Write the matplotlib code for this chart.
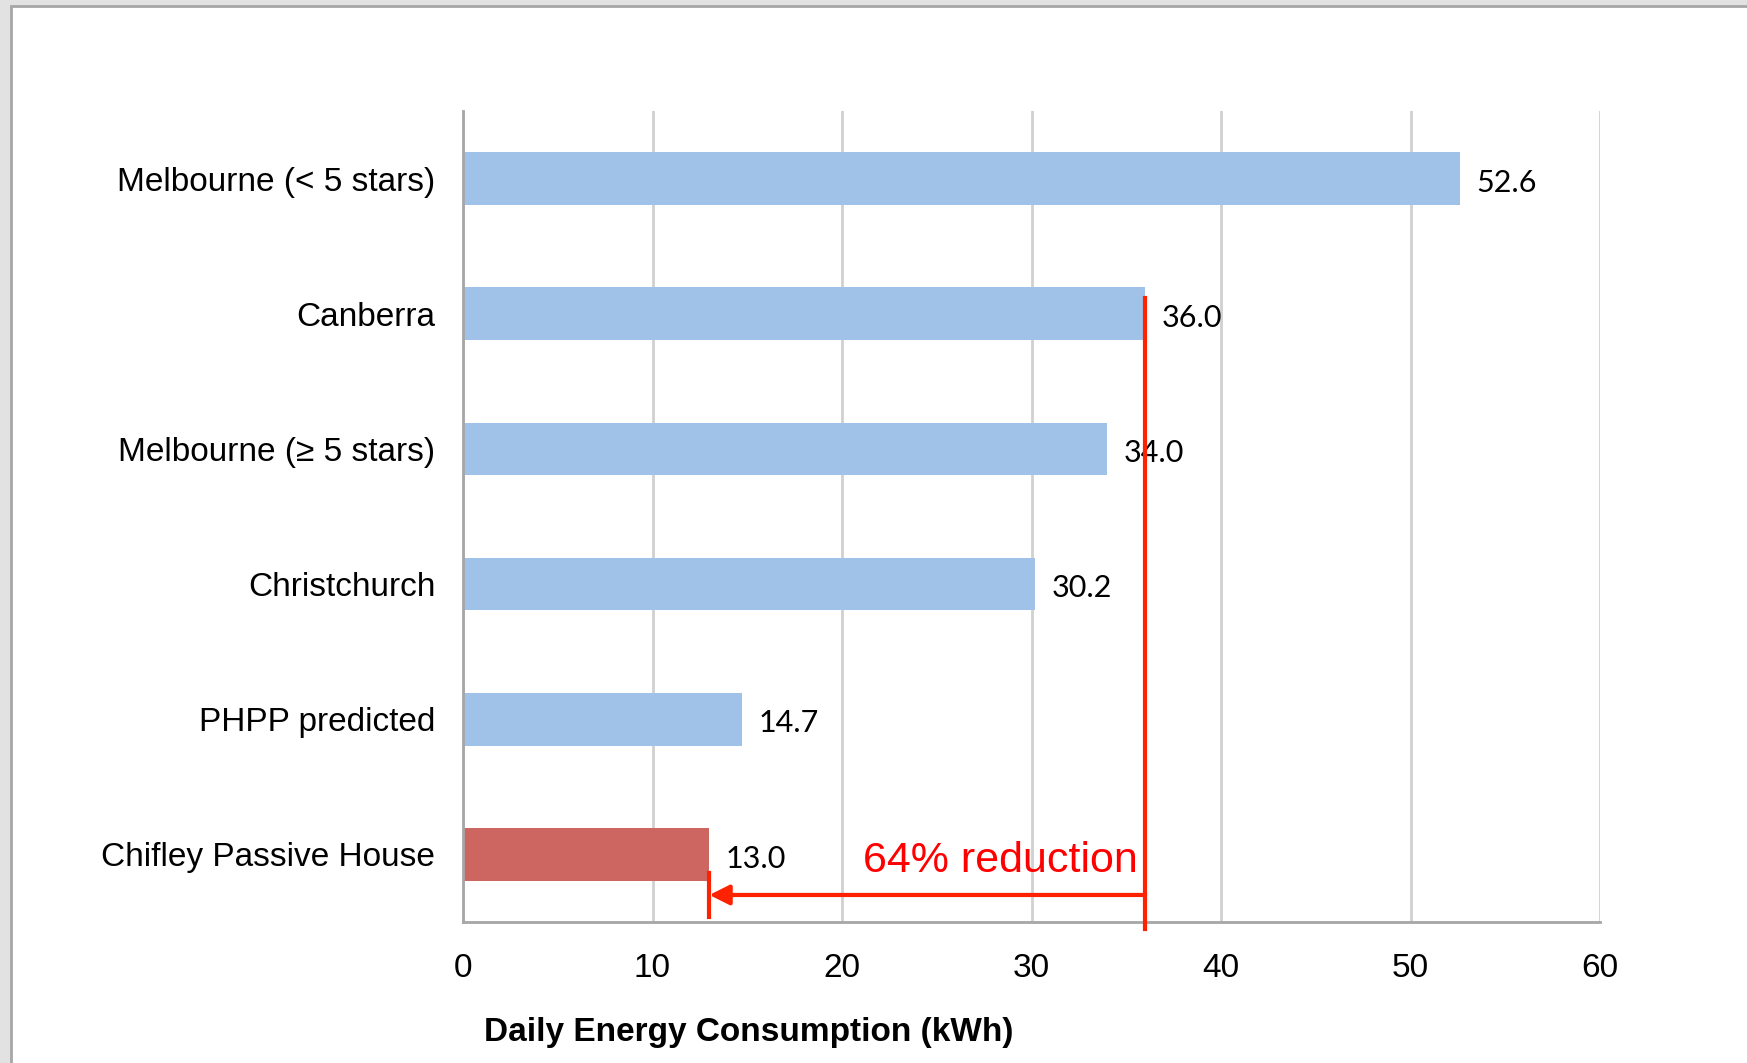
import matplotlib
matplotlib.use("Agg")
from matplotlib import pyplot as plt
from matplotlib.patches import Rectangle

# data
categories = ["Melbourne (< 5 stars)", "Canberra", "Melbourne (\u2265 5 stars)",
              "Christchurch", "PHPP predicted", "Chifley Passive House"]
values = [52.6, 36.0, 34.0, 30.2, 14.7, 13.0]
bar_colors = ["#A0C2E9"] * 5 + ["#CD6660"]
xticks = [0, 10, 20, 30, 40, 50, 60]
reduction_from = 36.0
reduction_to = 13.0
reduction_label = "64% reduction"

plt.rcParams['font.family'] = ['Liberation Sans', 'DejaVu Sans']

fig = plt.figure(figsize=(17.47, 10.63), dpi=100)
fig.patch.set_facecolor("#E2E2E2")
# white page with a grey edge, like the screenshot
fig.patches.append(Rectangle((11 / 1747, -0.01), 1.0, 1 - 6 / 1063 + 0.01,
                             transform=fig.transFigure, facecolor="white",
                             edgecolor="#A6A6A6", linewidth=2, zorder=-5))

ax = fig.add_axes([463 / 1747, 1 - 922 / 1063, (1600 - 463) / 1747, (922 - 111) / 1063])
ax.set_facecolor("none")

ypos = list(range(len(categories)))
ax.barh(ypos, values, height=0.39, color=bar_colors, zorder=2)
ax.set_ylim(len(categories) - 0.5, -0.5)
ax.set_xlim(0, 60)
ax.set_xticks(xticks)
ax.set_yticks(ypos)
ax.set_yticklabels(categories, fontsize=24)
ax.tick_params(axis='y', length=0, pad=20)
ax.tick_params(axis='x', length=0, pad=22, labelsize=24)

ax.grid(axis='x', color="#D0D0D0", linewidth=2, zorder=1)
for s in ["top", "right"]:
    ax.spines[s].set_visible(False)
for s in ["left", "bottom"]:
    ax.spines[s].set_color("#A6A6A6")
    ax.spines[s].set_linewidth(2)
ax.spines["left"].set_zorder(3)

for y, v in zip(ypos, values):
    ax.annotate(f"{v:.1f}", (v, y), xytext=(12, -3), textcoords="offset points",
                ha="left", va="center", fontsize=22, family=["Lato", "DejaVu Sans"],
                color="black")

# red reduction annotation
red = "#FF2200"
ax.plot([reduction_from, reduction_from], [0.88, 5.55], color=red, lw=3,
        clip_on=False, zorder=5)
ax.plot([reduction_to, reduction_to], [5.14, 5.46], color=red, lw=3,
        clip_on=False, zorder=5)
ax.annotate("", xy=(reduction_to, 5.3), xytext=(reduction_from, 5.3),
            arrowprops=dict(arrowstyle="-|>", color=red, lw=3,
                            mutation_scale=30, shrinkA=0, shrinkB=0),
            zorder=5)
ax.text(reduction_from - 0.4, 5.05, reduction_label, color="#FF0000",
        fontsize=31, ha="right", va="center", zorder=6)

fig.text(749 / 1747, 1 - 1032 / 1063, "Daily Energy Consumption (kWh)",
         ha="center", va="center", fontsize=24, fontweight="bold")

fig.savefig("out.png", dpi=100, facecolor=fig.get_facecolor())
